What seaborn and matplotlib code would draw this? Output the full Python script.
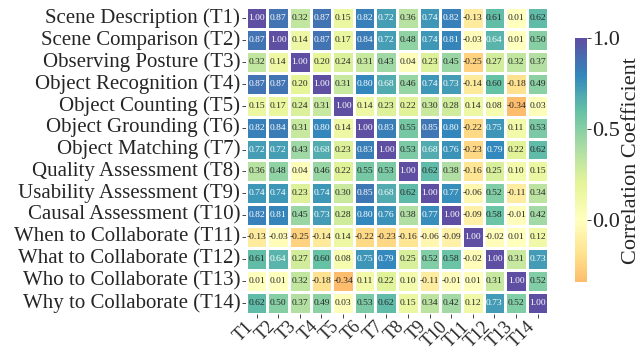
import numpy as np
import pandas as pd
import matplotlib
matplotlib.use("Agg")
import matplotlib.pyplot as plt
import seaborn as sns

# Task names and short codes
task_names = [
    "Scene Description (T1)", "Scene Comparison (T2)", "Observing Posture (T3)",
    "Object Recognition (T4)", "Object Counting (T5)", "Object Grounding (T6)",
    "Object Matching (T7)", "Quality Assessment (T8)", "Usability Assessment (T9)",
    "Causal Assessment (T10)", "When to Collaborate (T11)", "What to Collaborate (T12)",
    "Who to Collaborate (T13)", "Why to Collaborate (T14)",
]
task_codes = ["T%d" % i for i in range(1, 15)]

# Correlation rows
r_t1 = [1.00, 0.87, 0.32, 0.87, 0.15, 0.82, 0.72, 0.36, 0.74, 0.82, -0.13, 0.61, 0.01, 0.62]
r_t2 = [0.87, 1.00, 0.14, 0.87, 0.17, 0.84, 0.72, 0.48, 0.74, 0.81, -0.03, 0.64, 0.01, 0.50]
r_t3 = [0.32, 0.14, 1.00, 0.20, 0.24, 0.31, 0.43, 0.04, 0.23, 0.45, -0.25, 0.27, 0.32, 0.37]
r_t4 = [0.87, 0.87, 0.20, 1.00, 0.31, 0.80, 0.68, 0.46, 0.74, 0.73, -0.14, 0.60, -0.18, 0.49]
r_t5 = [0.15, 0.17, 0.24, 0.31, 1.00, 0.14, 0.23, 0.22, 0.30, 0.28, 0.14, 0.08, -0.34, 0.03]
r_t6 = [0.82, 0.84, 0.31, 0.80, 0.14, 1.00, 0.83, 0.55, 0.85, 0.80, -0.22, 0.75, 0.11, 0.53]
r_t7 = [0.72, 0.72, 0.43, 0.68, 0.23, 0.83, 1.00, 0.53, 0.68, 0.76, -0.23, 0.79, 0.22, 0.62]
r_t8 = [0.36, 0.48, 0.04, 0.46, 0.22, 0.55, 0.53, 1.00, 0.62, 0.38, -0.16, 0.25, 0.10, 0.15]
r_t9 = [0.74, 0.74, 0.23, 0.74, 0.30, 0.85, 0.68, 0.62, 1.00, 0.77, -0.06, 0.52, -0.11, 0.34]
r_t10 = [0.82, 0.81, 0.45, 0.73, 0.28, 0.80, 0.76, 0.38, 0.77, 1.00, -0.09, 0.58, -0.01, 0.42]
r_t11 = [-0.13, -0.03, -0.25, -0.14, 0.14, -0.22, -0.23, -0.16, -0.06, -0.09, 1.00, -0.02, 0.01, 0.12]
r_t12 = [0.61, 0.64, 0.27, 0.60, 0.08, 0.75, 0.79, 0.25, 0.52, 0.58, -0.02, 1.00, 0.31, 0.73]
r_t13 = [0.01, 0.01, 0.32, -0.18, -0.34, 0.11, 0.22, 0.10, -0.11, -0.01, 0.01, 0.31, 1.00, 0.52]
r_t14 = [0.62, 0.50, 0.37, 0.49, 0.03, 0.53, 0.62, 0.15, 0.34, 0.42, 0.12, 0.73, 0.52, 1.00]

rows = [r_t1, r_t2, r_t3, r_t4, r_t5, r_t6, r_t7, r_t8, r_t9, r_t10, r_t11, r_t12, r_t13, r_t14]
corr = pd.DataFrame(rows, index=task_names, columns=task_codes)

# Style
sns.set_style("ticks")
plt.rcParams["font.family"] = ["Liberation Serif", "DejaVu Serif"]

fig = plt.figure(figsize=(6.4, 3.5), dpi=100)
ax = fig.add_axes([0.384, 0.103, 0.473, 0.877])
cax = fig.add_axes([0.898, 0.194, 0.019, 0.697])

sns.heatmap(corr, ax=ax, cbar_ax=cax, cmap="Spectral", center=0,
            annot=True, fmt=".2f", annot_kws={"size": 6.8},
            linewidths=0.8, linecolor="white")

ax.set_xticklabels(task_codes, rotation=45, ha="right", fontsize=13)
ax.set_yticklabels(task_names, rotation=0, fontsize=15)
ax.tick_params(axis="both", length=3, width=0.6, pad=1)
ax.tick_params(axis="x", pad=0)

cax.set_yticks([0.0, 0.5, 1.0])
cax.tick_params(labelsize=16, length=3, width=0.6, pad=1)
cax.set_ylabel("Correlation Coefficient", fontsize=16, labelpad=1)
for s in cax.spines.values():
    s.set_visible(False)

plt.savefig("out.png", dpi=100)
